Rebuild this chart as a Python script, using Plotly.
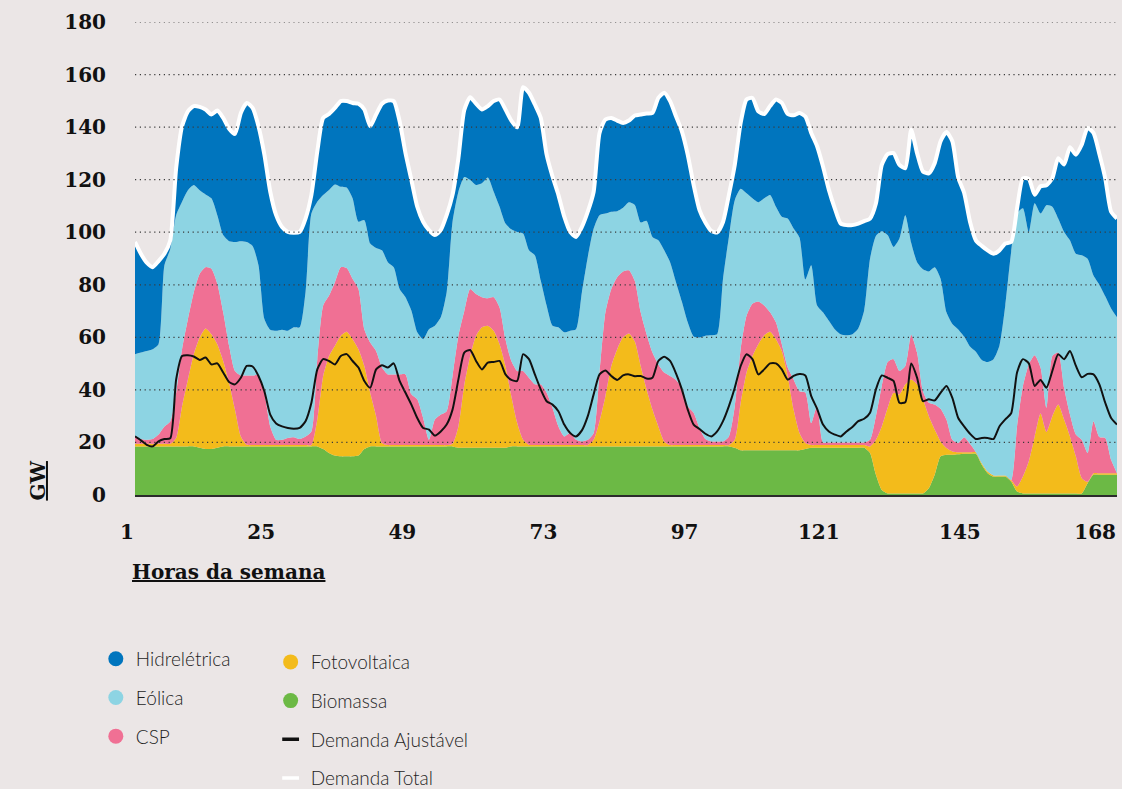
import plotly.graph_objects as go

# Hour of the week (1..168)
horas = list(range(1, 169))

# Generation by source, GW (12 hours per row)
biomassa = [
    18.5, 18.5, 18.5, 18.5, 18.5, 18.5, 18.5, 18.5, 18.5, 18.5, 18.5, 18,
    17.5, 17.5, 18, 18.5, 18.5, 18.5, 18.5, 18.5, 18.5, 18.5, 18.5, 18.5,
    18.5, 18.5, 18.5, 18.5, 18.5, 18.5, 18.5, 18.5, 17.5, 16, 15, 14.7,
    14.7, 14.7, 15, 17.5, 18.5, 18.5, 18.5, 18.5, 18.5, 18.5, 18.5, 18.5,
    18.5, 18.5, 18.5, 18.5, 18.5, 18.5, 18.5, 18, 18, 18, 18, 18,
    18, 18, 18, 18, 18.5, 18.5, 18.5, 18.5, 18.5, 18.5, 18.5, 18.5,
    18.5, 18.5, 18.5, 18.5, 18.5, 18.5, 18.5, 18.5, 18.5, 18.5, 18.5, 18.5,
    18.5, 18.5, 18.5, 18.5, 18.5, 18.5, 18.5, 18.5, 18.5, 18.5, 18.5, 18.5,
    18.5, 18.5, 18.5, 18.5, 18.5, 18.5, 18, 17, 17, 17, 17, 17,
    17, 17, 17, 17, 17, 17, 17.5, 18, 18, 18, 18, 18,
    18, 18, 18, 18, 18, 16, 7.7, 1.9, 0.6, 0.6, 0.6, 0.6,
    0.6, 0.6, 0.6, 2.6, 7.7, 14.7, 15.3, 15.3, 15.5, 15.7, 15.7, 15.7,
    11.5, 8.3, 7, 7, 7, 5.1, 1.3, 0.6, 0.6, 0.6, 0.6, 0.6,
    0.6, 0.6, 0.6, 0.6, 0.6, 0.6, 4.5, 7.7, 7.7, 7.7, 7.7, 7.7,
]

fotovoltaica = [
    1, 1, 1, 1, 1, 1, 1, 3.2, 15.3, 25.5, 35.1, 41.9,
    45.9, 43.7, 39.4, 32.5, 24.2, 14, 3.8, 0.6, 0.5, 0.5, 0.5, 0.5,
    0.5, 0.5, 0.5, 0.5, 0.5, 0.5, 0.5, 10.2, 27.8, 36.9, 41.8, 45.9,
    47.4, 44.6, 40.5, 31.6, 20.4, 11.5, 1.3, 0.5, 0.5, 0.5, 0.5, 0.5,
    0.5, 0.5, 0.5, 0.5, 0.5, 0.5, 1, 8.1, 24, 34.9, 42.6, 45.8,
    46.4, 44.5, 39.4, 31.1, 19.1, 8.9, 2.5, 0.6, 0.5, 0.5, 0.5, 0.5,
    0.5, 0.5, 0.5, 0.5, 0.5, 0.5, 2.5, 9.6, 19.1, 30.6, 37, 41.5,
    43, 39.9, 30.6, 21.7, 14, 7.6, 1.9, 0.5, 0.5, 0.5, 0.5, 0.5,
    0.5, 0.5, 0.5, 0.5, 0.5, 0.5, 3, 18.1, 29.6, 35.9, 40.4, 43.8,
    45.1, 42.3, 37.8, 28.3, 15.5, 6.6, 2.3, 1, 1, 1, 1, 1,
    1, 1, 1, 1, 1, 2.5, 13.3, 24.2, 32.6, 38.3, 37.7, 41.5,
    43.4, 41.5, 35.8, 27.4, 17.2, 5.7, 2.6, 1.3, 0.8, 0.6, 0.6, 0.6,
    0.6, 0.6, 0.4, 0.4, 0.4, 0.6, 1.9, 6.4, 12.2, 21.7, 30.4, 23.4,
    29.4, 33.8, 28.1, 21.7, 14.1, 5.8, 0.5, 0.6, 0.6, 0.6, 0.6, 0.6,
]

csp = [
    2.8, 1.8, 1.5, 1.8, 3.5, 6.6, 8.5, 17.2, 21.7, 23, 23.6, 24.3,
    23.3, 24.9, 23, 18.5, 14.1, 14.7, 23.2, 26.4, 26.5, 26.5, 19.9, 7.1,
    2, 2, 2.7, 3, 2.3, 3.3, 5.2, 23, 26.8, 23, 24.2, 26.1,
    24.3, 23, 22.9, 14, 19.1, 24.8, 28.7, 26.9, 26.9, 26.9, 26.9, 19.3,
    17.4, 10.3, 2, 9.7, 11.6, 12.9, 25.8, 34.5, 28, 25.5, 15.9, 11.5,
    10.5, 12.8, 14, 10.2, 13.4, 19.8, 26.2, 25.5, 23.1, 23.1, 19.9, 14.2,
    7.1, 3.3, 4.6, 2, 1.4, 2, 2.6, 18.5, 31.9, 29.3, 27.4, 25.1,
    24, 23, 20.4, 21, 21.7, 23.6, 26.2, 26.3, 24.8, 21.8, 14.8, 12.3,
    6.5, 2.3, 1.4, 1.4, 1.4, 3.3, 12.8, 20.4, 21.6, 19.9, 16.2, 11.3,
    7.4, 6.4, 2.6, 3.2, 11.5, 15.9, 19.2, 8.4, 15, 1, 1, 1,
    1, 1, 1, 1, 1, 2.5, 9, 15.4, 17.4, 12.8, 8.9, 7,
    17, 12.1, 3.1, 5.1, 9.5, 12.4, 10.8, 4.4, 3.5, 5.7, 3.2, 0,
    0, 0, 0, 0, 0, 0, 22.9, 34.5, 36.9, 30.9, 17.5, 9.2,
    22.9, 19.8, 12.1, 8.3, 8.3, 14.6, 11, 19.8, 13.8, 13.4, 5.1, 0,
]

eolica = [
    31.3, 32.9, 33.8, 34.2, 34.4, 61.3, 65.6, 67.6, 56.1, 49, 40.8, 31.8,
    27.7, 26.8, 26.1, 29.4, 39.8, 49.1, 51.1, 50.8, 49.3, 41.9, 28.1, 36.8,
    41.5, 41.9, 40.8, 41.8, 42.5, 54.9, 82.9, 59.9, 42.1, 40.2, 37.2, 30.6,
    30.6, 30.6, 25.6, 41.5, 37.7, 39.2, 44.6, 42.7, 40.8, 32.5, 29.4, 31.9,
    25.5, 30, 42.1, 35.7, 37, 45.3, 58.7, 54.8, 51, 41.5, 41.5, 43.3,
    45.9, 40.1, 38.3, 44, 50.1, 52.9, 52.3, 48.5, 49.1, 39.5, 33.2, 31.2,
    37.7, 39.6, 38.9, 42.1, 56.8, 69.6, 77.8, 59.9, 37.6, 29.4, 25.1, 24.2,
    25.9, 29, 34.2, 43.1, 44, 47.2, 46.5, 43.3, 37.2, 32.8, 31.9, 29,
    34.4, 39.3, 40.4, 40.8, 61.9, 75.9, 78.4, 61, 46.6, 40.1, 37.8, 40.8,
    44.7, 44, 48.5, 56.7, 57.4, 58.5, 43, 60, 38.1, 49.5, 46.3, 43.1,
    41.2, 40.8, 41.2, 43.4, 50.2, 68.9, 68.6, 58.9, 48.3, 42.7, 50.4, 57.4,
    35, 34.4, 46.4, 50, 52.3, 49.5, 40.8, 44.1, 43.2, 38.3, 37, 38.2,
    39.3, 41.7, 44.3, 49.4, 64.7, 86.8, 81, 67.6, 50.3, 57.8, 58.6, 77.1,
    56.8, 51, 59.3, 66.3, 68.8, 70.2, 73.9, 55.4, 57.9, 53.9, 57.6, 59.3,
]

hidreletrica = [
    42.7, 37.6, 33.6, 31.2, 31.6, 4.4, 3.3, 17.9, 28.7, 30, 30, 31.7,
    32.3, 31.9, 39.8, 44.6, 42.8, 41.1, 48.8, 52.9, 52.5, 52.9, 62.5, 52.5,
    44, 39.1, 37.6, 36, 36.3, 28, 7.1, 19.1, 29.3, 28.9, 29.1, 32.6,
    32.9, 36.3, 44.9, 42.1, 44.6, 50.8, 55.8, 61.5, 63.2, 63.8, 54.8, 49.7,
    47.8, 44.7, 37.7, 34.5, 33.2, 29.3, 10.2, 12.8, 25.5, 31.5, 30.9, 28.1,
    27.2, 34.5, 40.8, 43.4, 41.4, 39.8, 55.7, 60, 57.4, 61.9, 57.4, 56.8,
    50.4, 44, 37.6, 35.1, 24.8, 17.2, 14, 31.3, 35.8, 35.7, 34.5, 32.3,
    31.1, 34, 41.1, 40.9, 47.2, 54.2, 60, 61.3, 63.1, 64.8, 63.8, 57.7,
    48.5, 43.1, 39.7, 38.7, 21.6, 16, 13.4, 25.1, 35.7, 38.2, 34.6, 32.1,
    33.8, 40.8, 43.3, 39.8, 43.1, 47.4, 62, 50.4, 60.6, 55.5, 49.8, 46,
    42.1, 41.9, 41.5, 39.9, 34, 15.3, 12.3, 25.2, 30.8, 35.7, 28, 17.9,
    43, 41.5, 37.2, 37.3, 39.6, 52.3, 68.6, 69.5, 57.8, 54.7, 47.5, 42.4,
    43.4, 42.5, 40.1, 36.3, 23.6, 3.8, 2, 11.4, 20.3, 3.3, 10.4, 7.6,
    10.8, 23, 25.7, 35.4, 37.7, 42.1, 49.8, 54.3, 49.8, 44.9, 36.8, 37.6,
]

# Adjustable (flexible) demand, GW
demanda_ajustavel = [
    22.3, 20.8, 19.1, 18.5, 20.4, 21.3, 21.6, 44, 52.9, 53.2, 52.7, 51.4,
    52.3, 49.7, 50.1, 46.6, 43, 42.1, 44.6, 49.1, 48.9, 45.3, 39.5, 30.6,
    27.2, 26.1, 25.5, 25.2, 25.5, 28.1, 35.1, 47.8, 51.7, 51, 49.7, 52.9,
    53.6, 51, 48.5, 43.4, 40.8, 47.8, 49.4, 48.5, 50.1, 43.4, 38.9, 34.4,
    29.3, 25.5, 24.9, 22.6, 24.2, 26.8, 32.5, 44, 54.2, 55.2, 51, 47.8,
    50.4, 50.6, 51, 45.9, 43.8, 43.4, 53.6, 51.7, 45.9, 40.2, 35.7, 34.4,
    31.9, 26.8, 23.6, 22.3, 24.6, 30, 38.3, 45.9, 47.4, 45.3, 43.8, 45.5,
    45.9, 45.2, 45.3, 44.3, 44.6, 51, 52.6, 51, 46.3, 40.2, 32.5, 26.8,
    25.1, 23.3, 22.3, 24.2, 28.1, 33.8, 40.8, 49.1, 53.6, 51.7, 45.9, 47.8,
    50.1, 50.1, 47.8, 43.9, 45.3, 46, 45.5, 37.6, 32.8, 26.8, 24.2, 23,
    22.3, 24.2, 25.9, 28.1, 29, 31.3, 40.2, 45.5, 44.6, 43.4, 35.1, 35.3,
    50, 44.6, 35.7, 36.4, 36, 38.9, 41.5, 37, 29.3, 26.1, 23.3, 21.3,
    21.7, 21.7, 21.3, 26.1, 28.8, 31.1, 46.6, 51.7, 50.1, 41.5, 43.8, 40.8,
    47.2, 53.6, 51.7, 54.8, 49.2, 44.8, 46.1, 45.9, 42.1, 35.1, 29.3, 26.8,
]

# Total demand is met by the full generation stack
demanda_total = [round(sum(v), 1) for v in zip(biomassa, fotovoltaica, csp, eolica, hidreletrica)]

x_ticks = [1, 25, 49, 73, 97, 121, 145, 168]
y_ticks = [0, 20, 40, 60, 80, 100, 120, 140, 160, 180]

BG = "#ebe6e6"
SERIF = "DejaVu Serif"
SANS = "Lato"

# Stacking order, bottom to top
camadas = [
    ("Biomassa", biomassa, "#6cb945"),
    ("Fotovoltaica", fotovoltaica, "#f3bb1b"),
    ("CSP", csp, "#f07094"),
    ("Eólica", eolica, "#8dd4e3"),
    ("Hidrelétrica", hidreletrica, "#0075be"),
]
cores = {nome: cor for nome, _, cor in camadas}

fig = go.Figure()

for nome, serie, cor in camadas:
    fig.add_trace(go.Scatter(
        x=horas, y=serie, name=nome, stackgroup="geracao", mode="lines",
        line=dict(width=0, color=cor, shape="spline", smoothing=0.6),
        fillcolor=cor, showlegend=False, hoverinfo="skip",
    ))

fig.add_trace(go.Scatter(
    x=horas, y=demanda_ajustavel, mode="lines", name="Demanda Ajustável",
    line=dict(color="#111111", width=2, shape="spline", smoothing=0.6),
    showlegend=False, hoverinfo="skip",
))
fig.add_trace(go.Scatter(
    x=horas, y=demanda_total, mode="lines", name="Demanda Total",
    line=dict(color="#ffffff", width=4, shape="spline", smoothing=0.6),
    showlegend=False, hoverinfo="skip",
))

# Legend entries: first column (legend), second column (legend2)
for nome in ["Hidrelétrica", "Eólica", "CSP"]:
    fig.add_trace(go.Scatter(
        x=[None], y=[None], mode="markers", name=nome, legend="legend",
        legendgroup=nome, marker=dict(symbol="circle", size=15, color=cores[nome]),
    ))
for nome in ["Fotovoltaica", "Biomassa"]:
    fig.add_trace(go.Scatter(
        x=[None], y=[None], mode="markers", name=nome, legend="legend2",
        legendgroup=nome, marker=dict(symbol="circle", size=15, color=cores[nome]),
    ))
for nome, cor in [("Demanda Ajustável", "#111111"), ("Demanda Total", "#ffffff")]:
    fig.add_trace(go.Scatter(
        x=[None], y=[None], mode="markers", name=nome, legend="legend2",
        legendgroup=nome,
        marker=dict(symbol="line-ew", size=12, color=cor, line=dict(color=cor, width=3.5)),
    ))

# Dotted horizontal guides drawn over the areas
for v in y_ticks[1:]:
    fig.add_shape(
        type="line", xref="paper", x0=0, x1=1, yref="y", y0=v, y1=v,
        line=dict(color="#3a3a3a", width=1.2, dash="1.2px,3.6px"), layer="above",
    )

tick_font = dict(family=SERIF, size=20, color="#111111", weight=700)
legend_common = dict(
    xref="container", yref="container",
    xanchor="left", yanchor="top", bgcolor="rgba(0,0,0,0)", borderwidth=0,
    font=dict(family=SANS, size=19, color="#1e1e1e", weight=300),
    tracegroupgap=11, traceorder="grouped", itemsizing="trace", orientation="v",
)

fig.update_layout(
    width=1122, height=789,
    margin=dict(l=135, r=5, t=22, b=294, autoexpand=False),
    paper_bgcolor=BG, plot_bgcolor=BG,
    showlegend=True,
    legend=dict(x=0.0854, y=0.189, **legend_common),
    legend2=dict(x=0.2412, y=0.185, **legend_common),
    xaxis=dict(
        range=[1, 168], tickvals=x_ticks, ticks="", showgrid=False, zeroline=False,
        showline=True, linecolor="#2b2b2b", linewidth=2,
        ticklabelposition="outside left", ticklabelstandoff=18,
        tickfont=tick_font, layer="above traces",
    ),
    yaxis=dict(
        range=[0, 180], tickvals=y_ticks, ticks="", showgrid=False, zeroline=False,
        showline=False, ticklabelstandoff=28, tickfont=tick_font,
    ),
    annotations=[
        dict(
            text="<span style='text-decoration:underline'>GW</span>",
            xref="paper", yref="paper", x=-0.099, y=0.03, textangle=-90,
            xanchor="center", yanchor="middle", showarrow=False,
            font=dict(family=SERIF, size=20, color="#111111", weight=700),
        ),
        dict(
            text="<span style='text-decoration:underline'>Horas da semana</span>",
            xref="paper", yref="paper", x=-0.005, y=-0.163,
            xanchor="left", yanchor="middle", showarrow=False,
            font=dict(family=SERIF, size=20, color="#111111", weight=700),
        ),
    ],
)

fig.write_html("out.html")
